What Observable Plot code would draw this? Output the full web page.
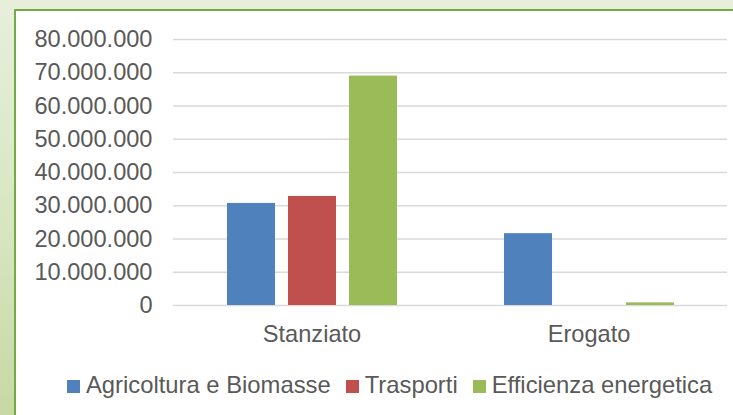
<!DOCTYPE html>
<html>
<head>
<meta charset="utf-8">
<script src="https://cdn.jsdelivr.net/npm/d3@7"></script>
<script src="https://cdn.jsdelivr.net/npm/@observablehq/plot@0.6"></script>
<style>
  html, body { margin: 0; padding: 0; overflow: hidden; }
  html { background: #fff; }
  body {
    width: 100vw; height: 100vh; position: relative;
    background: linear-gradient(to bottom, #e7efdb 0%, #d6e6c0 55%, #c6d9a4 100%);
    font-family: "Liberation Sans", Arial, sans-serif;
  }
  #panel {
    position: absolute; left: 14px; top: 9px; right: -60px; bottom: -60px;
    background: #fff; border-top: 2px solid #72ab42; border-left: 2px solid #72ab42;
  }
  #chart { position: absolute; left: 0; top: 0; }
  #legend {
    position: absolute; left: 67px; top: 371px; display: flex; align-items: center;
    font-size: 23.8px; color: #595959; white-space: nowrap;
  }
  #legend .item { display: flex; align-items: center; margin-right: 15px; }
  #legend .sw { width: 13px; height: 13px; margin-right: 6px; margin-top: 2px; }
</style>
</head>
<body>
<div id="panel"></div>
<div id="chart"></div>
<div id="legend"></div>
<script>
const categories = ["Stanziato", "Erogato"];
const series = ["Agricoltura e Biomasse", "Trasporti", "Efficienza energetica"];
const colors = ["#4f81bd", "#c0504d", "#9bbb59"];
const agricolturaValues = [30700000, 21600000];
const trasportiValues = [32800000, 0];
const efficienzaValues = [69000000, 800000];
const yTicks = [0, 10000000, 20000000, 30000000, 40000000, 50000000, 60000000, 70000000, 80000000];

const valuesBySeries = [agricolturaValues, trasportiValues, efficienzaValues];
const data = [];
categories.forEach((c, ci) => {
  series.forEach((s, si) => {
    data.push({category: c, series: s, value: valuesBySeries[si][ci]});
  });
});

const it = d3.formatLocale({decimal: ",", thousands: ".", grouping: [3], currency: ["", "€"]});
const fmt = it.format(",d");

const chart = Plot.plot({
  width: 733,
  height: 355,
  marginTop: 39,
  marginBottom: 50,
  marginLeft: 173,
  marginRight: 6,
  style: {background: "transparent", fontFamily: "'Liberation Sans', Arial, sans-serif", fontSize: "23.6px", color: "#595959"},
  fx: {domain: categories, padding: 0, label: null, tickSize: 0, tickPadding: 20, axis: "bottom"},
  x: {domain: series, paddingInner: 0.22, paddingOuter: 0.86, axis: null},
  y: {domain: [0, 80000000], ticks: yTicks, tickFormat: fmt, tickSize: 0, tickPadding: 21, label: null},
  color: {domain: series, range: colors},
  marks: [
    Plot.ruleY(yTicks, {stroke: "#d9d9d9", strokeWidth: 1.4}),
    Plot.barY(data, {fx: "category", x: "series", y: "value", fill: "series"}),
    Plot.axisY({ticks: yTicks, tickFormat: fmt, tickSize: 0, tickPadding: 21, fill: "#595959", fontSize: 23.6, label: null})
  ]
});
chart.querySelectorAll("text").forEach(t => t.setAttribute("fill", "#595959"));
document.getElementById("chart").appendChild(chart);

const legend = document.getElementById("legend");
series.forEach((s, i) => {
  const item = document.createElement("div");
  item.className = "item";
  const sw = document.createElement("div");
  sw.className = "sw";
  sw.style.background = colors[i];
  const label = document.createElement("span");
  label.textContent = s;
  item.appendChild(sw);
  item.appendChild(label);
  legend.appendChild(item);
});
</script>
</body>
</html>
